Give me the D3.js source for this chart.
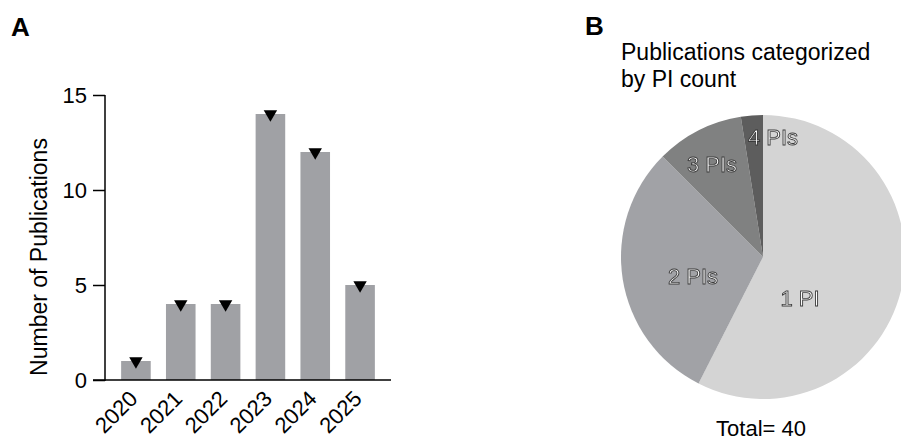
<!DOCTYPE html>
<html>
<head>
<meta charset="utf-8">
<script src="https://cdn.jsdelivr.net/npm/d3@7"></script>
<style>
  body { margin: 0; background: #fff; }
  svg { display: block; font-family: "Liberation Sans", Arial, sans-serif; }
  .outline { opacity: 0.99; will-change: transform; }
</style>
</head>
<body>
<svg id="chart" width="901" height="440"></svg>
<script>
// ---- Data ----
const years = ["2020", "2021", "2022", "2023", "2024", "2025"];
const publications = [1, 4, 4, 14, 12, 5];
const yTicks = [0, 5, 10, 15];

const piCategories = ["1 PI", "2 PIs", "3 PIs", "4 PIs"];
const piCounts = [23, 12, 4, 1];
const piColors = ["#d4d4d4", "#a1a2a6", "#808181", "#5d5d5d"];

const svg = d3.select("#chart");

// ---- Panel A: bar chart ----
const x = d3.scaleBand().domain(years).range([105, 391]).paddingInner(0.34).paddingOuter(0.36);
const y = d3.scaleLinear().domain([0, 15]).range([380, 95]);

const gA = svg.append("g");

gA.append("text").attr("x", 11).attr("y", 36)
  .attr("font-size", 26).attr("font-weight", "bold").text("A");

gA.selectAll("rect.bar").data(publications).join("rect")
  .attr("class", "bar")
  .attr("x", (d, i) => x(years[i]))
  .attr("width", x.bandwidth())
  .attr("y", d => y(d))
  .attr("height", d => y(0) - y(d))
  .attr("fill", "#a0a1a5");

const tri = d3.symbol().type(d3.symbolTriangle).size(78);
gA.selectAll("path.tri").data(publications).join("path")
  .attr("class", "tri")
  .attr("d", tri)
  .attr("transform", (d, i) => `translate(${x(years[i]) + x.bandwidth() / 2},${y(d)}) rotate(180)`)
  .attr("fill", "#000");

// x axis
const xAxis = gA.append("g").attr("transform", `translate(0,${y(0)})`)
  .call(d3.axisBottom(x).tickSize(0).tickPadding(0));
xAxis.select(".domain").attr("d", `M93,0H391`).attr("stroke", "#000").attr("stroke-width", 1.5);
xAxis.selectAll("text")
  .attr("font-size", 22).attr("fill", "#000")
  .attr("text-anchor", "end")
  .attr("y", 0)
  .attr("dy", 0)
  .attr("transform", "translate(3,20) rotate(-45)");

// y axis
const yAxis = gA.append("g").attr("transform", `translate(105,0)`)
  .call(d3.axisLeft(y).tickValues(yTicks).tickSize(12).tickPadding(6));
yAxis.select(".domain").attr("d", `M0,${y(15)}V${y(0) + 1}`).attr("stroke", "#000").attr("stroke-width", 1.5);
yAxis.selectAll(".tick line").attr("stroke", "#000").attr("stroke-width", 1.5);
yAxis.selectAll(".tick text").attr("font-size", 22).attr("fill", "#000");

gA.append("text")
  .attr("transform", "translate(47,257) rotate(-90)")
  .attr("text-anchor", "middle")
  .attr("font-size", 23)
  .text("Number of Publications");

// ---- Panel B: pie ----
const gB = svg.append("g");
gB.append("text").attr("x", 585).attr("y", 35)
  .attr("font-size", 26).attr("font-weight", "bold").text("B");
gB.append("text").attr("x", 621).attr("y", 60).attr("font-size", 23).text("Publications categorized");
gB.append("text").attr("x", 621).attr("y", 87).attr("font-size", 23).text("by PI count");

const cx = 763, cy = 257, r = 142;
const pie = d3.pie().sort(null).value(d => d)(piCounts);
const arc = d3.arc().innerRadius(0).outerRadius(r);
const pg = gB.append("g").attr("transform", `translate(${cx},${cy})`);
pg.selectAll("path").data(pie).join("path")
  .attr("d", arc)
  .attr("fill", (d, i) => piColors[i]);

const labelPos = [[37, 41], [-70, 19], [-51, -93], [10, -120]];
pg.append("g").attr("class", "outline")
  .selectAll("text").data(pie).join("text")
  .attr("x", (d, i) => labelPos[i][0])
  .attr("y", (d, i) => labelPos[i][1])
  .attr("text-anchor", "middle")
  .attr("dy", "0.35em")
  .attr("font-size", 22)
  .attr("fill", "#fff")
  .attr("stroke", "#3a3a3a")
  .attr("stroke-width", 0.9)
  .text((d, i) => piCategories[i]);

gB.append("text").attr("x", 761).attr("y", 436)
  .attr("text-anchor", "middle").attr("font-size", 22)
  .text("Total= " + d3.sum(piCounts));
</script>
</body>
</html>
